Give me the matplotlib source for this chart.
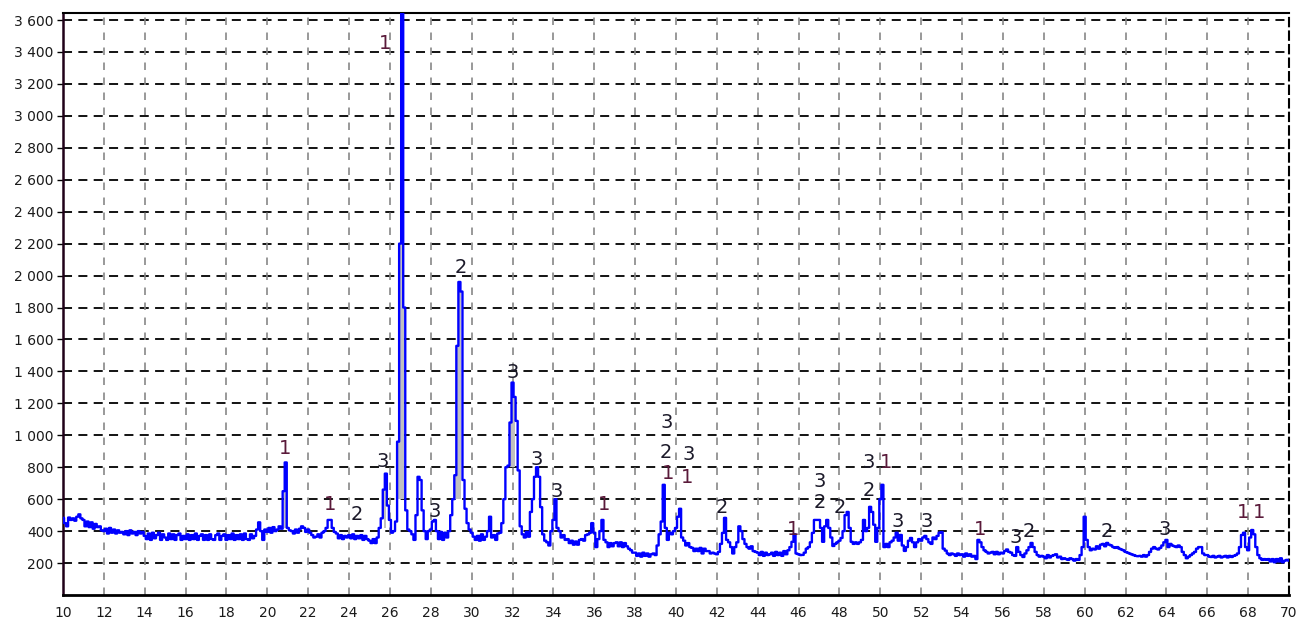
import numpy as np
import matplotlib
matplotlib.use('Agg')
from matplotlib import pyplot as plt
from matplotlib.ticker import FuncFormatter

# 2-theta grid, 0.1 degree step from 10 to 70
two_theta = np.round(np.arange(10.0, 70.05, 0.1), 1)

# intensity, one row per degree (x.0 ... x.9)
counts = [
    483, 450, 430, 485, 470, 480, 465, 490, 505, 480,   # 10
    470, 430, 460, 425, 455, 415, 445, 425, 430, 405,   # 11
    400, 415, 385, 420, 390, 410, 385, 405, 390, 395,   # 12
    380, 400, 375, 405, 385, 395, 375, 400, 385, 395,   # 13
    370, 350, 385, 345, 390, 355, 375, 390, 345, 380,   # 14
    360, 345, 385, 350, 380, 345, 375, 385, 345, 370,   # 15
    350, 380, 345, 375, 350, 385, 345, 370, 380, 345,   # 16
    375, 345, 380, 350, 345, 375, 385, 345, 370, 380,   # 17
    345, 375, 350, 385, 345, 375, 350, 380, 345, 385,   # 18
    350, 345, 380, 355, 370, 410, 455, 400, 345, 410,   # 19
    395, 420, 390, 425, 400, 410, 430, 415, 650, 830,   # 20
    420, 405, 400, 385, 410, 390, 415, 430, 420, 395,   # 21
    410, 390, 375, 360, 365, 380, 360, 390, 400, 420,   # 22
    470, 470, 420, 395, 385, 355, 375, 350, 370, 360,   # 23
    375, 355, 380, 350, 370, 355, 375, 345, 370, 350,   # 24
    340, 325, 350, 325, 360, 420, 480, 660, 760, 560,   # 25
    470, 390, 400, 460, 960, 2200, 3650, 1800, 530, 410,  # 26
    400, 380, 345, 500, 740, 720, 530, 400, 350, 400,   # 27
    410, 460, 470, 400, 350, 395, 345, 390, 360, 400,   # 28
    500, 600, 750, 1560, 1960, 1900, 720, 540, 450, 410,  # 29
    390, 365, 345, 370, 340, 380, 345, 365, 400, 490,   # 30
    360, 375, 345, 385, 390, 450, 600, 800, 810, 1080,  # 31
    1330, 1240, 1090, 780, 430, 380, 360, 395, 365, 520,  # 32
    600, 740, 800, 740, 550, 380, 340, 330, 310, 400,   # 33
    470, 600, 420, 400, 360, 375, 345, 350, 325, 340,   # 34
    315, 335, 315, 345, 350, 340, 375, 380, 390, 450,   # 35
    390, 300, 350, 400, 470, 345, 330, 300, 325, 305,   # 36
    325, 330, 305, 330, 300, 325, 305, 290, 280, 265,   # 37
    265, 245, 260, 240, 265, 245, 260, 240, 255, 260,   # 38
    250, 310, 380, 460, 690, 420, 345, 390, 380, 400,   # 39
    420, 490, 540, 360, 340, 310, 325, 300, 295, 275,   # 40
    290, 275, 295, 260, 290, 275, 275, 260, 265, 260,   # 41
    255, 270, 320, 389, 483, 345, 330, 300, 260, 300,   # 42
    330, 430, 400, 350, 320, 300, 290, 305, 275, 270,   # 43
    265, 250, 270, 245, 265, 250, 255, 265, 245, 270,   # 44
    250, 265, 245, 275, 255, 280, 300, 333, 380, 260,   # 45
    255, 250, 251, 265, 290, 300, 330, 389, 470, 470,   # 46
    470, 420, 333, 430, 470, 420, 360, 307, 320, 330,   # 47
    340, 357, 400, 500, 520, 420, 333, 320, 330, 320,   # 48
    330, 345, 470, 400, 420, 552, 520, 440, 333, 420,   # 49
    600, 690, 300, 320, 300, 330, 340, 360, 390, 340,   # 50
    376, 310, 276, 300, 340, 357, 330, 300, 330, 350,   # 51
    340, 360, 370, 350, 330, 320, 360, 350, 370, 390,   # 52
    394, 290, 278, 260, 250, 260, 255, 245, 260, 250,   # 53
    255, 240, 260, 245, 255, 240, 245, 225, 345, 330,   # 54
    300, 280, 270, 260, 265, 270, 255, 270, 255, 265,   # 55
    260, 275, 285, 270, 265, 250, 245, 300, 270, 250,   # 56
    238, 260, 280, 300, 326, 300, 270, 250, 240, 245,   # 57
    240, 230, 250, 235, 245, 250, 255, 235, 240, 225,   # 58
    230, 225, 220, 230, 225, 215, 225, 220, 250, 300,   # 59
    490, 345, 300, 280, 290, 285, 305, 290, 315, 320,   # 60
    305, 326, 315, 310, 300, 295, 300, 290, 285, 280,   # 61
    270, 265, 260, 255, 250, 245, 243, 245, 240, 250,   # 62
    240, 250, 270, 290, 300, 290, 285, 295, 310, 330,   # 63
    345, 300, 320, 310, 305, 300, 310, 300, 270, 250,   # 64
    230, 240, 250, 260, 270, 290, 300, 300, 260, 250,   # 65
    250, 240, 238, 245, 235, 240, 245, 235, 240, 245,   # 66
    235, 245, 238, 245, 250, 260, 300, 376, 390, 300,   # 67
    280, 360, 407, 380, 300, 250, 230, 220, 225, 220,   # 68
    225, 210, 225, 205, 225, 210, 230, 205, 215, 220,   # 69
    215,                                                # 70
]

# grey marked peak areas: start, end, lower level
fill_start = [20.75, 25.65, 26.35, 29.15, 31.85, 39.35, 40.15, 67.75]
fill_end = [20.95, 25.85, 26.75, 29.55, 32.15, 39.45, 40.25, 68.15]
fill_base = [420, 420, 600, 600, 800, 420, 400, 300]

# phase labels
lab_txt = ['1', '1', '1', '2', '3', '3', '2', '3', '3', '3', '1',
           '3', '2', '1', '3', '1', '2', '1', '3', '2', '2',
           '3', '2', '1', '3', '3', '1', '3', '2', '2', '3', '1', '1']
lab_x = [25.75, 20.85, 23.07, 24.37, 25.66, 28.2, 29.48, 32.0, 33.19, 34.16, 36.48,
         39.52, 39.52, 39.6, 40.64, 40.55, 42.24, 45.73, 47.05, 47.05, 48.03,
         49.45, 49.45, 50.27, 50.87, 52.29, 54.89, 56.6, 57.28, 61.08, 63.94, 67.76, 68.54]
lab_y = [3450, 920, 564, 502, 834, 520, 2050, 1392, 846, 646, 564,
         1078, 890, 759, 878, 734, 545, 407, 709, 577, 545,
         827, 652, 827, 458, 458, 407, 357, 395, 395, 407, 515, 515]

y_ticks = list(range(200, 3601, 200))
x_ticks = list(range(10, 71, 2))

counts = np.array(counts, dtype=float)

fig = plt.figure(figsize=(13.09, 6.23), dpi=100)
ax = fig.add_axes([63 / 1309, 1 - 595 / 623, (1289 - 63) / 1309, (595 - 13) / 623])

for a, b, base in zip(fill_start, fill_end, fill_base):
    m = (two_theta >= a - 1e-6) & (two_theta <= b + 1e-6)
    ax.fill_between(two_theta, base, np.maximum(counts, base), where=m,
                    step='mid', color='#c0c0c0', linewidth=0, zorder=2)

ax.plot(two_theta, counts, color='#0000ff', linewidth=1.7, drawstyle='steps-mid', zorder=3)

for t, x, y in zip(lab_txt, lab_x, lab_y):
    c = '#5a1a3a' if t == '1' else '#1c1a2a'
    ax.text(x, y, t, ha='center', va='center', fontsize=14, color=c, zorder=4)

ax.set_xlim(10, 70)
ax.set_ylim(0, 3644)
ax.set_xticks(x_ticks)
ax.set_yticks(y_ticks)
ax.yaxis.set_major_formatter(FuncFormatter(lambda v, p: '{:,}'.format(int(v)).replace(',', ' ')))

ax.tick_params(axis='x', length=0, pad=8, labelsize=10, labelcolor='#1a1a1a')
ax.tick_params(axis='y', length=4, width=1, pad=3, labelsize=10, labelcolor='#1a1a1a')

for yv in y_ticks:
    ax.axhline(yv, color='black', linewidth=1.3, linestyle=(0, (5, 3.5)), zorder=1)
for xv in x_ticks[1:-1]:
    ax.axvline(xv, color='#888888', linewidth=1.2, linestyle=(0, (4.5, 4.5)), zorder=1)

ax.spines['left'].set_color('#200018')
ax.spines['left'].set_linewidth(1.8)
ax.spines['bottom'].set_linewidth(2)
ax.spines['top'].set_linewidth(1.5)
ax.spines['right'].set_linestyle((0, (4, 2.5)))
ax.spines['right'].set_linewidth(1.5)

fig.savefig('out.png', dpi=100)
